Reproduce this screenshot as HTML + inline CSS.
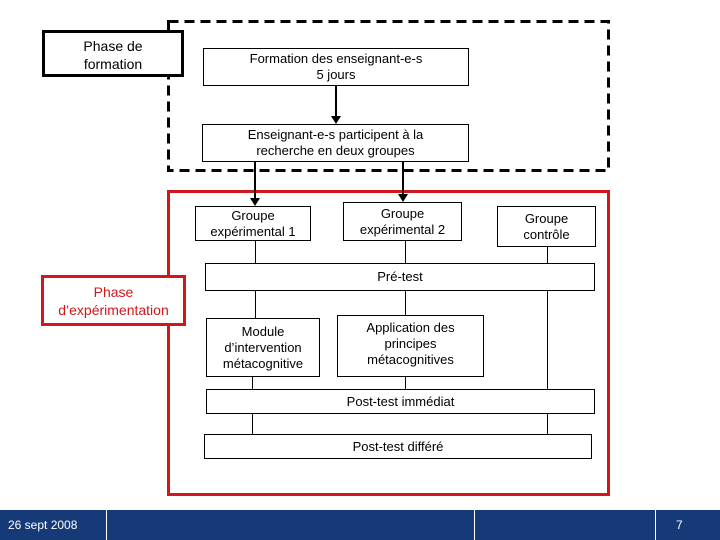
<!DOCTYPE html>
<html><head><meta charset="utf-8"><style>
body{margin:0;width:720px;height:540px;position:relative;background:#fff;font-family:"Liberation Sans",sans-serif;overflow:hidden}
.b{position:absolute;box-sizing:border-box;border:1px solid #000;background:#fff;display:flex;align-items:center;justify-content:center;text-align:center;font-size:13px;line-height:16px;color:#000}
.l{position:absolute;background:#000;width:1px}
</style></head><body>
<svg style="position:absolute;left:0;top:0" width="720" height="540"><rect x="168.5" y="21.5" width="440" height="149" fill="none" stroke="#000" stroke-width="3" stroke-dasharray="10,6"/></svg>
<div style="position:absolute;left:167px;top:190px;width:443px;height:306px;box-sizing:border-box;border:3px solid #d0181c"></div>
<div class="b" style="left:42px;top:30px;width:142px;height:47px;border:3px solid #000;align-items:flex-start;padding-top:4px;font-size:14px;line-height:18px">Phase de<br>formation</div>
<div class="b" style="left:41px;top:275px;width:145px;height:51px;border:3px solid #d0181c;color:#d0181c;font-size:14px;line-height:18px">Phase<br>d’expérimentation</div>
<div class="b" style="left:203px;top:48px;width:266px;height:38px">Formation des enseignant-e-s<br>5 jours</div>
<div class="b" style="left:202px;top:124px;width:267px;height:38px">Enseignant-e-s participent à la<br>recherche en deux groupes</div>
<div class="l" style="left:335px;top:86px;height:32px;width:2px"></div>
<div style="position:absolute;left:331px;top:116px;border-left:5px solid transparent;border-right:5px solid transparent;border-top:8px solid #000"></div>
<div class="l" style="left:254px;top:162px;height:38px;width:2px"></div>
<div style="position:absolute;left:250px;top:198px;border-left:5px solid transparent;border-right:5px solid transparent;border-top:8px solid #000"></div>
<div class="l" style="left:402px;top:162px;height:34px;width:2px"></div>
<div style="position:absolute;left:398px;top:194px;border-left:5px solid transparent;border-right:5px solid transparent;border-top:8px solid #000"></div>
<div class="l" style="left:255px;top:241px;height:78px"></div>
<div class="l" style="left:405px;top:241px;height:150px"></div>
<div class="l" style="left:547px;top:247px;height:142px"></div>
<div class="l" style="left:252px;top:377px;height:58px"></div>
<div class="l" style="left:547px;top:414px;height:20px"></div>
<div class="b" style="left:195px;top:206px;width:116px;height:35px">Groupe<br>expérimental 1</div>
<div class="b" style="left:343px;top:202px;width:119px;height:39px">Groupe<br>expérimental 2</div>
<div class="b" style="left:497px;top:206px;width:99px;height:41px">Groupe<br>contrôle</div>
<div class="b" style="left:205px;top:263px;width:390px;height:28px;align-items:flex-start;padding-top:5px">Pré-test</div>
<div class="b" style="left:206px;top:318px;width:114px;height:59px">Module<br>d’intervention<br>métacognitive</div>
<div class="b" style="left:337px;top:315px;width:147px;height:62px;align-items:flex-start;padding-top:4px">Application des<br>principes<br>métacognitives</div>
<div class="b" style="left:206px;top:389px;width:389px;height:25px">Post-test immédiat</div>
<div class="b" style="left:204px;top:434px;width:388px;height:25px">Post-test différé</div>
<div style="position:absolute;left:0;top:510px;width:720px;height:30px;background:#163a78"></div>
<div style="position:absolute;left:106px;top:510px;width:1px;height:30px;background:#fff"></div>
<div style="position:absolute;left:474px;top:510px;width:1px;height:30px;background:#fff"></div>
<div style="position:absolute;left:655px;top:510px;width:1px;height:30px;background:#fff"></div>
<div style="position:absolute;left:8px;top:518px;color:#fff;font-size:12px">26 sept 2008</div>
<div style="position:absolute;left:676px;top:518px;color:#fff;font-size:12px">7</div>
</body></html>
